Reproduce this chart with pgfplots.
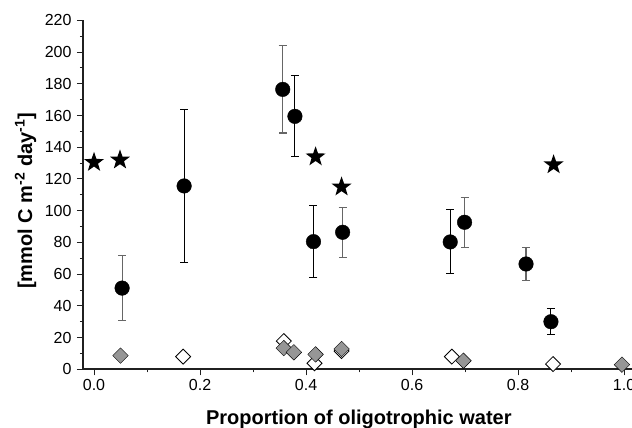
\documentclass[border=0pt]{standalone}
\usepackage{fontspec}
\setmainfont{Liberation Sans}
\usepackage{pgfplots}
\pgfplotsset{compat=1.18}

% filled five-pointed star
\pgfdeclareplotmark{fstar}{%
  \pgfpathmoveto{\pgfpointpolar{90}{\pgfplotmarksize}}%
  \pgfpathlineto{\pgfpointpolar{126}{0.4\pgfplotmarksize}}%
  \pgfpathlineto{\pgfpointpolar{162}{\pgfplotmarksize}}%
  \pgfpathlineto{\pgfpointpolar{198}{0.4\pgfplotmarksize}}%
  \pgfpathlineto{\pgfpointpolar{234}{\pgfplotmarksize}}%
  \pgfpathlineto{\pgfpointpolar{270}{0.4\pgfplotmarksize}}%
  \pgfpathlineto{\pgfpointpolar{306}{\pgfplotmarksize}}%
  \pgfpathlineto{\pgfpointpolar{342}{0.4\pgfplotmarksize}}%
  \pgfpathlineto{\pgfpointpolar{18}{\pgfplotmarksize}}%
  \pgfpathlineto{\pgfpointpolar{54}{0.4\pgfplotmarksize}}%
  \pgfpathclose
  \pgfusepathqfill
}

\definecolor{dgray}{HTML}{969696}
\definecolor{ebgray}{HTML}{666666}
\definecolor{axcol}{HTML}{202020}

\begin{document}
\begin{tikzpicture}
\begin{axis}[
  scale only axis,
  width=551.7pt, height=348.9pt,
  xmin=-0.0208, xmax=1.02,
  ymin=0, ymax=220,
  axis lines*=left,
  axis line style={axcol, line width=1.6pt},
  tick align=outside,
  major tick length=6pt, minor tick length=3pt,
  tick style={axcol, line width=1pt},
  xtick={0,0.2,...,1.0}, minor x tick num=1,
  ytick={0,20,...,220}, minor y tick num=1,
  xticklabel style={/pgf/number format/.cd, fixed, fixed zerofill, precision=1},
  yticklabel style={xshift=-2pt},
  /pgf/number format/assume math mode=true,
  tick label style={font=\fontsize{16}{19}\selectfont},
  xlabel={\bfseries Proportion of oligotrophic water},
  ylabel={\bfseries [mmol C m\textsuperscript{-2} day\textsuperscript{-1}]},
  label style={font=\fontsize{20}{24}\selectfont},
  xlabel style={at={(axis description cs:0.5,0)}, anchor=base, yshift=-55pt},
  ylabel style={at={(axis description cs:0,0.5)}, anchor=center, yshift=57.5pt, xshift=-6pt},
  clip=false,
]
% open diamonds
\addplot[only marks, draw=black, fill=white, mark=square*, mark size=5.3pt,
  mark options={rotate=45, fill=white, draw=black, line width=0.8pt}]
  coordinates {(0.168,8) (0.358,17.8) (0.416,3.8) (0.467,11.5) (0.675,8) (0.866,3.3)};
% grey diamonds
\addplot[only marks, draw=none, fill=dgray, mark=square*, mark size=5.5pt,
  mark options={rotate=45, fill=dgray, draw=none}]
  coordinates {(0.05,8.6) (0.358,13.4) (0.377,10.7) (0.418,9.4) (0.467,12.8) (0.697,5.4) (0.996,2.9)};
% error bars, black
\addplot[draw=none, mark=none,
  error bars/.cd, y dir=both, y explicit,
  error bar style={draw=black, line width=1pt},
  error mark options={rotate=90, mark size=4pt, draw=black, line width=1pt}]
  coordinates {(0.17,115.6) +- (0,48) (0.379,159.5) +- (0,25.5) (0.414,80.5) +- (0,22.7)
               (0.672,80.3) +- (0,20.2) (0.862,30) +- (0,8.3)};
% error bars, grey
\addplot[draw=none, mark=none,
  error bars/.cd, y dir=both, y explicit,
  error bar style={draw=ebgray, line width=1.1pt},
  error mark options={rotate=90, mark size=4pt, draw=ebgray, line width=1.1pt}]
  coordinates {(0.053,51.2) +- (0,20.3) (0.356,176.5) +- (0,27.5) (0.469,86.4) +- (0,15.7)
               (0.699,92.7) +- (0,15.7) (0.815,66.4) +- (0,10.4)};
% circles
\addplot[only marks, draw=black, fill=black, mark=*, mark size=7.3pt,
  mark options={fill=black, draw=black}]
  coordinates {(0.17,115.6) (0.379,159.5) (0.414,80.5) (0.672,80.3) (0.862,30)
               (0.053,51.2) (0.356,176.5) (0.469,86.4) (0.699,92.7) (0.815,66.4)};
% stars
\addplot[only marks, fill=black, mark=fstar, mark size=10.5pt, mark options={fill=black}]
  coordinates {(0,130.5) (0.049,132) (0.418,134) (0.467,115) (0.867,129)};
\end{axis}
\pgfresetboundingbox
\path (-83pt,-58.7pt) rectangle (549pt,369.3pt);
\end{tikzpicture}
\end{document}
